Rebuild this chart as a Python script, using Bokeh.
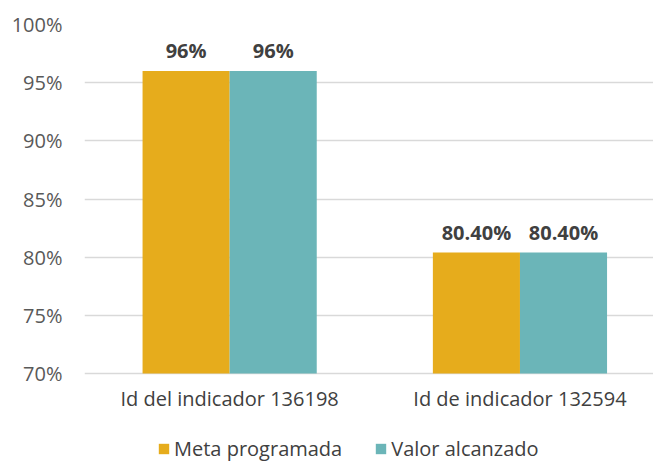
from bokeh.plotting import figure
from bokeh.models import Range1d, FixedTicker, ColumnDataSource, Legend, LegendItem, NumeralTickFormatter
from bokeh.core.properties import value
from bokeh.embed import file_html
from bokeh.resources import INLINE

categories = ["Id del indicador 136198", "Id de indicador 132594"]
series_names = ["Meta programada", "Valor alcanzado"]
meta = [96, 80.4]
valor = [96, 80.4]
meta_labels = ["96%", "80.40%"]
valor_labels = ["96%", "80.40%"]
y_ticks = [70, 75, 80, 85, 90, 95, 100]

GOLD = "#E6AC1C"
TEAL = "#6BB5B8"
FONT = "Open Sans"

# layout (pixels)
W, H = 653, 462
TOP, LEFT, AXIS_BOTTOM_PX = 24, 84, 373
px_per_unit = (AXIS_BOTTOM_PX - TOP) / (y_ticks[-1] - y_ticks[0])
y_start = y_ticks[0] - (H - AXIS_BOTTOM_PX) / px_per_unit

p = figure(width=W, height=H, output_backend="svg", toolbar_location=None,
           x_range=Range1d(-0.5, 1.46), y_range=Range1d(y_start, y_ticks[-1]),
           min_border_left=LEFT, min_border_right=0, min_border_top=TOP, min_border_bottom=0)
p.outline_line_color = None
p.xaxis.visible = False

x = list(range(len(categories)))
bw = 0.30
src_m = ColumnDataSource(dict(x=[i - bw / 2 for i in x], top=meta, lab=meta_labels))
src_v = ColumnDataSource(dict(x=[i + bw / 2 for i in x], top=valor, lab=valor_labels))
src_c = ColumnDataSource(dict(x=x, y=[y_ticks[0]] * len(x), lab=categories))

r1 = p.vbar(x="x", top="top", bottom=y_ticks[0], width=bw, source=src_m, fill_color=GOLD, line_color=None)
r2 = p.vbar(x="x", top="top", bottom=y_ticks[0], width=bw, source=src_v, fill_color=TEAL, line_color=None)

for src in (src_m, src_v):
    p.text(x="x", y="top", text="lab", source=src, text_align="center", text_baseline="bottom",
           y_offset=-7, text_font=value(FONT), text_font_size="20px", text_font_style="bold",
           text_color="#404040")

# category labels under the axis line
p.text(x="x", y="y", text="lab", source=src_c, text_align="center", text_baseline="middle",
       y_offset=25, text_font=value(FONT), text_font_size="20px", text_color="#404040")

p.yaxis.ticker = FixedTicker(ticks=y_ticks)
p.yaxis.formatter = NumeralTickFormatter(format="0")
p.yaxis.major_label_overrides = {t: f"{t}%" for t in y_ticks}
p.yaxis.axis_line_color = None
p.yaxis.major_tick_line_color = None
p.yaxis.minor_tick_line_color = None
p.yaxis.major_label_text_font = FONT
p.yaxis.major_label_text_font_size = "20px"
p.yaxis.major_label_text_color = "#595959"
p.yaxis.major_label_standoff = 16

p.xgrid.grid_line_color = None
p.ygrid.ticker = FixedTicker(ticks=y_ticks)
p.ygrid.grid_line_color = "#D9D9D9"
p.ygrid.grid_line_width = 1.5

legend = Legend(items=[LegendItem(label=series_names[0], renderers=[r1]),
                       LegendItem(label=series_names[1], renderers=[r2])],
                orientation="horizontal", location=(73, 0),
                label_text_font=FONT, label_text_font_size="20px", label_text_color="#404040",
                glyph_width=13, glyph_height=13, label_standoff=4, spacing=32,
                border_line_color=None, background_fill_alpha=0,
                padding=0, margin=0)
p.add_layout(legend, "center")

open("out.html", "w").write(file_html(p, INLINE))
